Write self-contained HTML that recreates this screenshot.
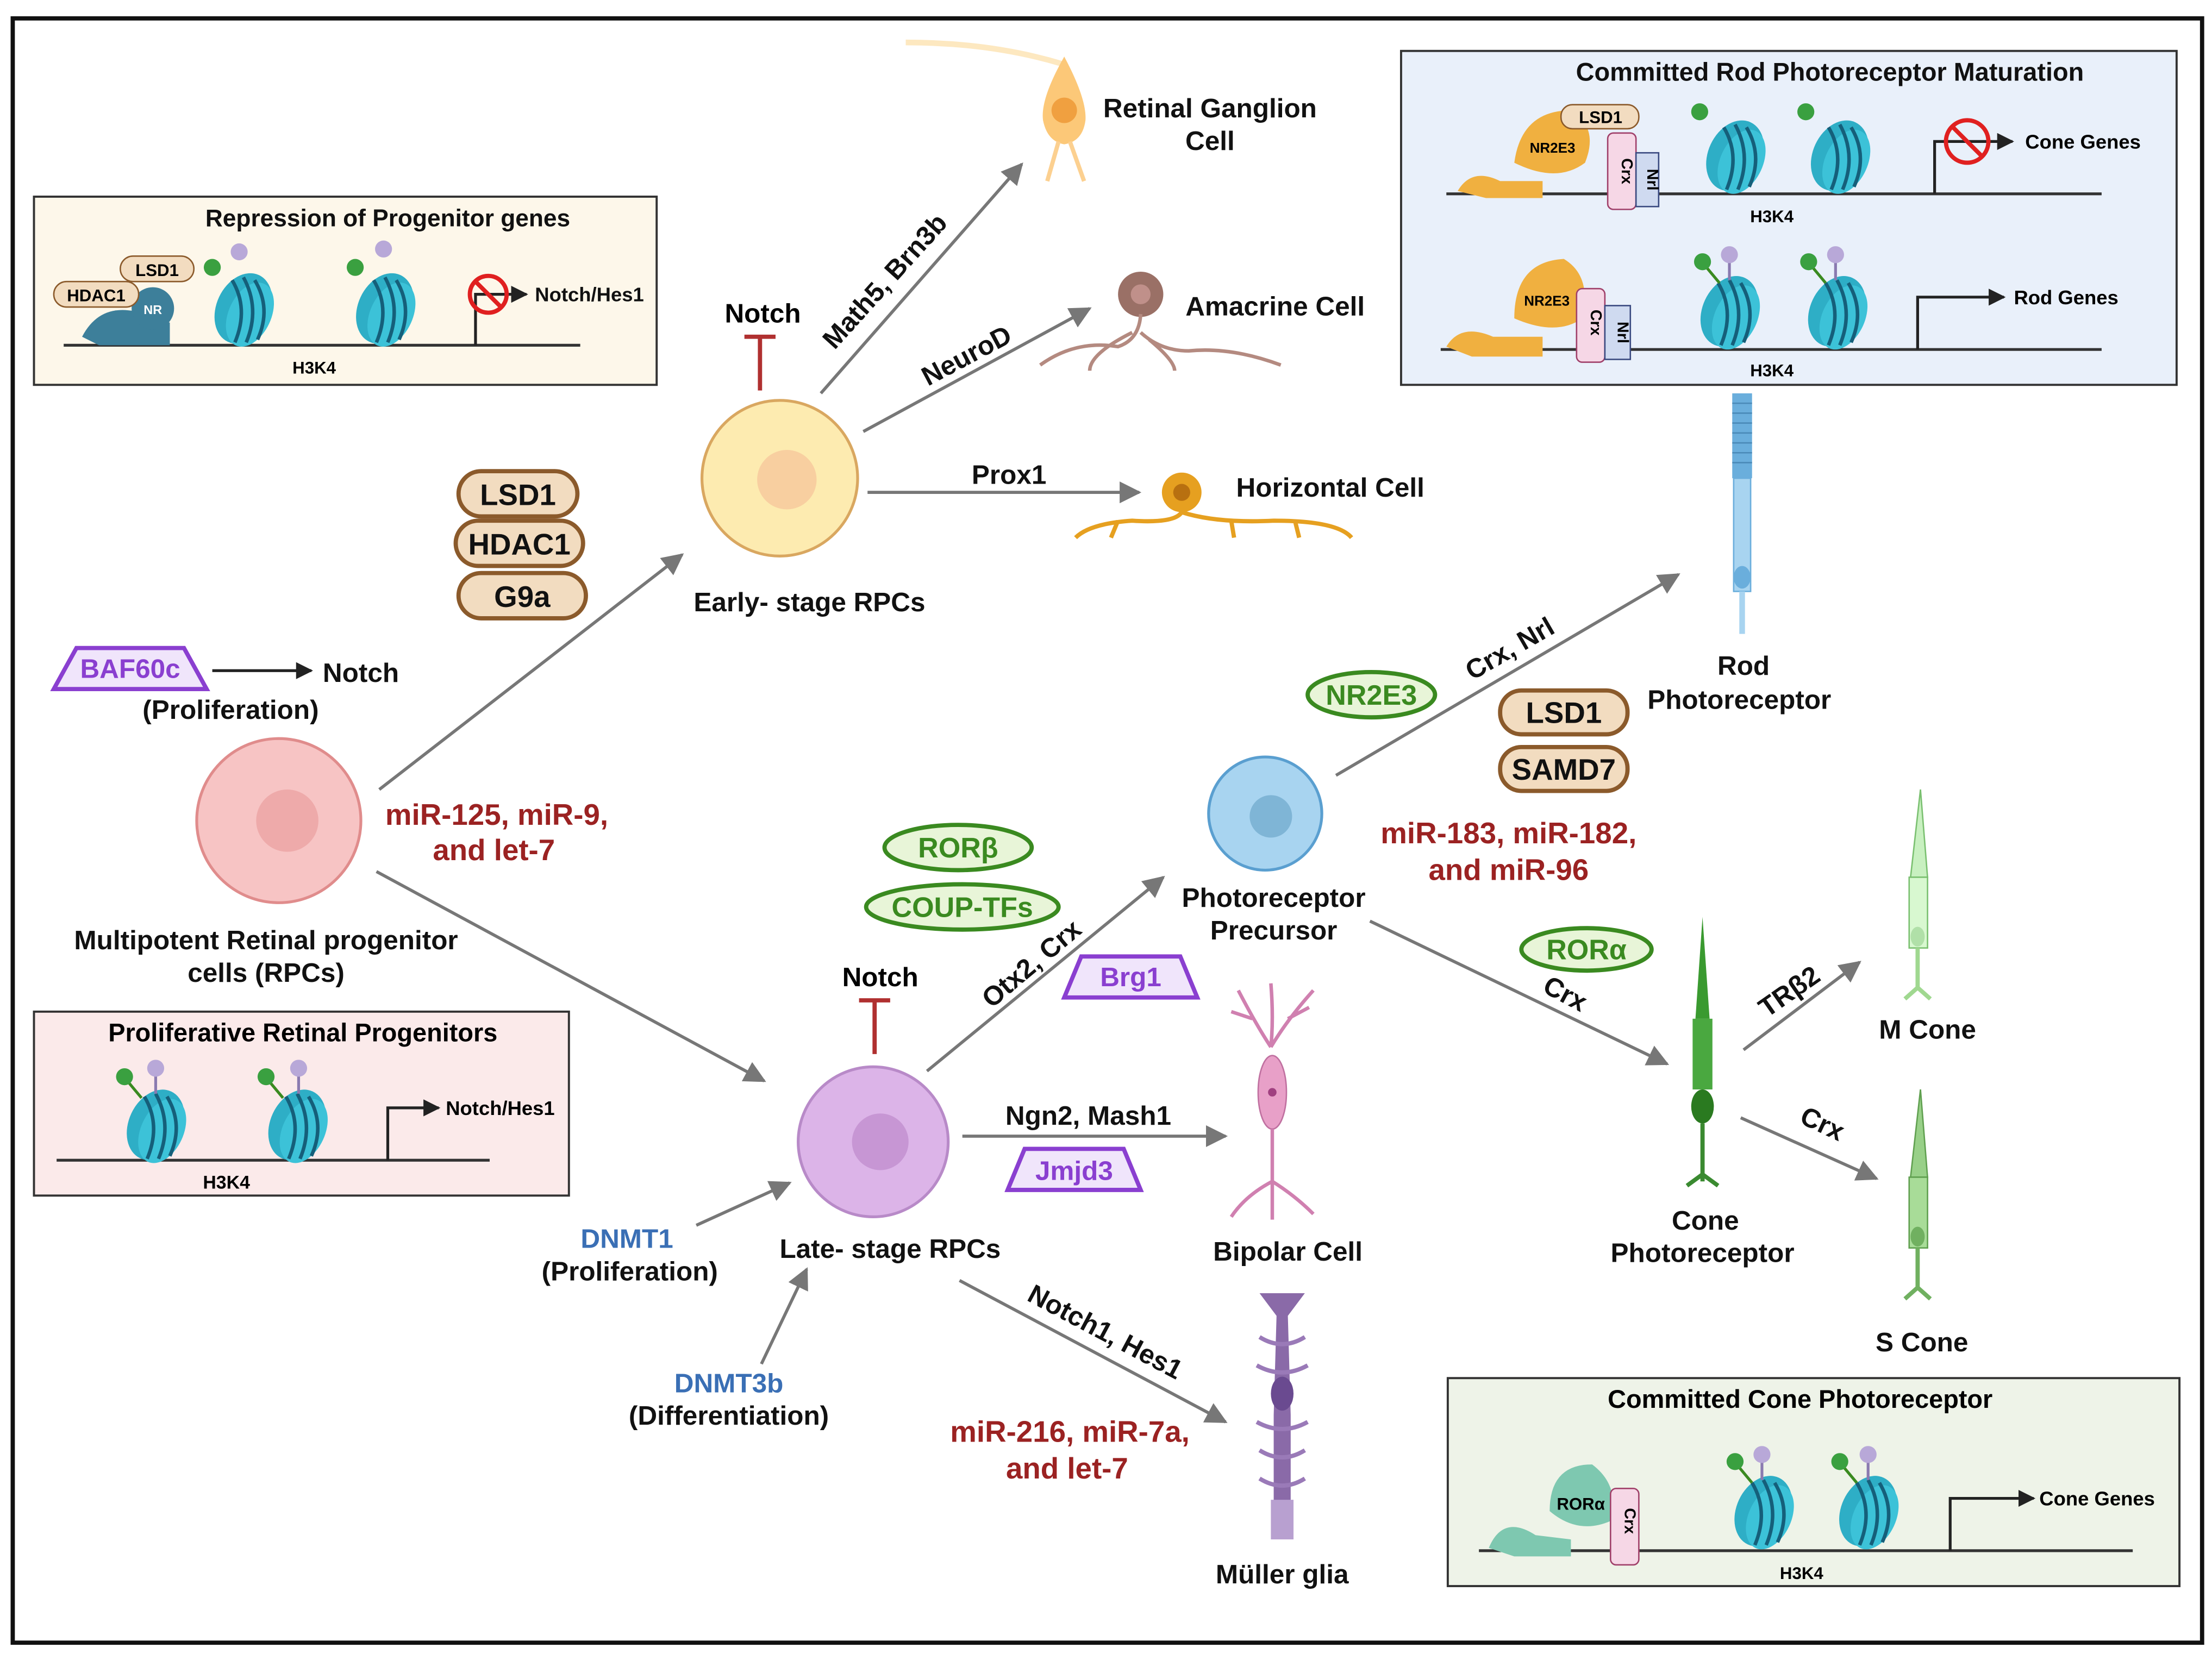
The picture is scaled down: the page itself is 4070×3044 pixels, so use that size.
<!DOCTYPE html>
<html><head><meta charset="utf-8"><style>
html,body{margin:0;padding:0;background:#fff;}
svg{display:block;}
text{font-family:"Liberation Sans",Arial,sans-serif;font-weight:bold;}
</style></head><body>
<svg width="4070" height="3044" viewBox="0 0 1563 1169" preserveAspectRatio="none" xmlns="http://www.w3.org/2000/svg">
<defs>
<marker id="ar" viewBox="0 0 10 10" refX="9" refY="5" markerWidth="7" markerHeight="7" orient="auto"><path d="M0,0L10,5L0,10z" fill="#777"/></marker>
<marker id="ak" viewBox="0 0 10 10" refX="9" refY="5" markerWidth="6" markerHeight="6" orient="auto"><path d="M0,0L10,5L0,10z" fill="#222"/></marker>
<g id="nuc">
<ellipse cx="0" cy="0" rx="19" ry="26" fill="#2eaec6" transform="rotate(25)"/>
<ellipse cx="6" cy="2" rx="15" ry="24" fill="#3cc2d8" transform="rotate(25)"/>
<path d="M-8,-20 Q4,0 -6,24 M0,-22 Q12,0 2,24 M8,-20 Q20,0 10,22" stroke="#155f7a" stroke-width="2.5" fill="none"/>
</g>
<g id="me"><line x1="0" y1="0" x2="-10" y2="-12" stroke="#3a8a20" stroke-width="2"/><circle cx="-12" cy="-15" r="6" fill="#3aa040"/></g>
<g id="ac"><line x1="0" y1="0" x2="0" y2="-14" stroke="#8a7ab0" stroke-width="2"/><circle cx="0" cy="-18" r="6" fill="#b8a8d8"/></g>
</defs>
<rect x="0" y="0" width="1563" height="1169" fill="#fff"/>
<rect x="9" y="13" width="1547" height="1148" fill="none" stroke="#111" stroke-width="3"/>

<!-- Repression box -->
<rect x="24" y="139" width="440" height="133" fill="#fdf7ea" stroke="#333" stroke-width="1.5"/>
<text x="274" y="160" font-size="17" text-anchor="middle" fill="#111">Repression of Progenitor genes</text>
<line x1="45" y1="244" x2="410" y2="244" stroke="#333" stroke-width="2"/>
<path d="M58,238 Q70,215 95,220 L120,228 L120,244 L70,244 z" fill="#3d7f9a"/>
<circle cx="108" cy="218" r="15" fill="#3d7f9a"/><text x="108" y="222" font-size="9" fill="#fff" text-anchor="middle">NR</text>
<rect x="38" y="199" width="60" height="18" rx="9" fill="#f2dcc0" stroke="#8b5a2b"/><text x="68" y="213" font-size="12" text-anchor="middle">HDAC1</text>
<rect x="85" y="181" width="52" height="18" rx="9" fill="#f2dcc0" stroke="#8b5a2b"/><text x="111" y="195" font-size="12" text-anchor="middle">LSD1</text>
<circle cx="150" cy="189" r="6" fill="#3aa040"/><circle cx="169" cy="178" r="6" fill="#b8a8d8"/>
<use href="#nuc" x="172" y="218"/><use href="#nuc" x="272" y="218"/>
<circle cx="251" cy="189" r="6" fill="#3aa040"/><circle cx="271" cy="176" r="6" fill="#b8a8d8"/>
<path d="M336,244 V208 H372" stroke="#222" stroke-width="2" fill="none" marker-end="url(#ak)"/>
<circle cx="345" cy="208" r="13" fill="none" stroke="#e02020" stroke-width="3"/><line x1="336" y1="199" x2="354" y2="217" stroke="#e02020" stroke-width="3"/>
<text x="378" y="213" font-size="14" fill="#111">Notch/Hes1</text>
<text x="222" y="264" font-size="12" text-anchor="middle">H3K4</text>

<!-- Committed Rod box -->
<rect x="990" y="36" width="548" height="236" fill="#e9f0fa" stroke="#333" stroke-width="1.5"/>
<text x="1293" y="57" font-size="18" text-anchor="middle" fill="#111">Committed Rod Photoreceptor Maturation</text>
<line x1="1022" y1="137" x2="1485" y2="137" stroke="#333" stroke-width="2"/>
<path d="M1030,135 Q1040,118 1060,128 L1090,128 L1090,140 L1050,140 z" fill="#f0b040"/>
<path d="M1070,115 Q1075,78 1110,78 Q1130,90 1120,115 Q1100,130 1070,115z" fill="#f0b040"/>
<text x="1097" y="108" font-size="10" text-anchor="middle">NR2E3</text>
<rect x="1103" y="74" width="55" height="17" rx="8" fill="#f2dcc0" stroke="#8b5a2b"/><text x="1131" y="87" font-size="12" text-anchor="middle">LSD1</text>
<rect x="1136" y="94" width="20" height="54" rx="4" fill="#f6d7e6" stroke="#a0406a"/><text x="1146" y="121" font-size="11" text-anchor="middle" transform="rotate(90 1146 121)">Crx</text>
<rect x="1156" y="108" width="16" height="38" fill="#cfdaf0" stroke="#3a4a80"/><text x="1164" y="127" font-size="11" text-anchor="middle" transform="rotate(90 1164 127)">Nrl</text>
<use href="#nuc" x="1226" y="110"/><use href="#nuc" x="1300" y="110"/>
<circle cx="1201" cy="79" r="6" fill="#3aa040"/><circle cx="1276" cy="79" r="6" fill="#3aa040"/>
<path d="M1367,137 V100 H1422" stroke="#222" stroke-width="2" fill="none" marker-end="url(#ak)"/>
<circle cx="1390" cy="100" r="15" fill="none" stroke="#e02020" stroke-width="3"/><line x1="1380" y1="90" x2="1400" y2="110" stroke="#e02020" stroke-width="3"/>
<text x="1431" y="105" font-size="14">Cone Genes</text>
<text x="1252" y="157" font-size="12" text-anchor="middle">H3K4</text>
<line x1="1018" y1="247" x2="1485" y2="247" stroke="#333" stroke-width="2"/>
<path d="M1022,245 Q1032,228 1055,238 L1090,238 L1090,252 L1040,252 z" fill="#f0b040"/>
<path d="M1070,225 Q1070,185 1105,183 Q1125,195 1118,225 Q1100,238 1070,225z" fill="#f0b040"/>
<text x="1093" y="216" font-size="10" text-anchor="middle">NR2E3</text>
<rect x="1114" y="204" width="20" height="52" rx="4" fill="#f6d7e6" stroke="#a0406a"/><text x="1124" y="228" font-size="11" text-anchor="middle" transform="rotate(90 1124 228)">Crx</text>
<rect x="1134" y="216" width="18" height="38" fill="#cfdaf0" stroke="#3a4a80"/><text x="1143" y="235" font-size="11" text-anchor="middle" transform="rotate(90 1143 235)">Nrl</text>
<use href="#nuc" x="1222" y="220"/><use href="#nuc" x="1298" y="220"/>
<use href="#me" x="1215" y="200"/><use href="#ac" x="1222" y="198"/><use href="#me" x="1290" y="200"/><use href="#ac" x="1297" y="198"/>
<path d="M1355,247 V210 H1416" stroke="#222" stroke-width="2" fill="none" marker-end="url(#ak)"/>
<text x="1423" y="215" font-size="14">Rod Genes</text>
<text x="1252" y="266" font-size="12" text-anchor="middle">H3K4</text>

<!-- Proliferative box -->
<rect x="24" y="715" width="378" height="130" fill="#fbeaea" stroke="#333" stroke-width="1.5"/>
<text x="214" y="736" font-size="18" text-anchor="middle">Proliferative Retinal Progenitors</text>
<line x1="40" y1="820" x2="346" y2="820" stroke="#333" stroke-width="2"/>
<use href="#nuc" x="110" y="795"/><use href="#nuc" x="210" y="795"/>
<use href="#me" x="100" y="776"/><use href="#ac" x="110" y="773"/><use href="#me" x="200" y="776"/><use href="#ac" x="211" y="773"/>
<path d="M274,820 V783 H310" stroke="#222" stroke-width="2" fill="none" marker-end="url(#ak)"/>
<text x="315" y="788" font-size="14">Notch/Hes1</text>
<text x="160" y="840" font-size="13" text-anchor="middle">H3K4</text>

<!-- Committed Cone box -->
<rect x="1023" y="974" width="517" height="147" fill="#eef3e8" stroke="#333" stroke-width="1.5"/>
<text x="1272" y="995" font-size="18" text-anchor="middle">Committed Cone Photoreceptor</text>
<line x1="1045" y1="1096" x2="1507" y2="1096" stroke="#333" stroke-width="2"/>
<path d="M1052,1094 Q1062,1070 1085,1085 L1110,1088 L1110,1100 L1070,1100 z" fill="#7ec8b0"/>
<path d="M1095,1068 Q1095,1035 1125,1035 Q1145,1050 1138,1075 Q1115,1085 1095,1068z" fill="#7ec8b0"/>
<text x="1117" y="1067" font-size="12" text-anchor="middle">RORα</text>
<rect x="1138" y="1052" width="20" height="54" rx="4" fill="#f6d7e6" stroke="#a0406a"/><text x="1148" y="1075" font-size="11" text-anchor="middle" transform="rotate(90 1148 1075)">Crx</text>
<use href="#nuc" x="1246" y="1068"/><use href="#nuc" x="1320" y="1068"/>
<use href="#me" x="1238" y="1048"/><use href="#ac" x="1245" y="1046"/><use href="#me" x="1312" y="1048"/><use href="#ac" x="1320" y="1046"/>
<path d="M1378,1096 V1059 H1437" stroke="#222" stroke-width="2" fill="none" marker-end="url(#ak)"/>
<text x="1441" y="1064" font-size="14">Cone Genes</text>
<text x="1273" y="1116" font-size="12" text-anchor="middle">H3K4</text>

<!-- Arrows -->
<g stroke="#777" stroke-width="2.2" fill="none" marker-end="url(#ar)">
<line x1="268" y1="558" x2="482" y2="392"/>
<line x1="266" y1="616" x2="540" y2="764"/>
<line x1="580" y1="278" x2="722" y2="116"/>
<line x1="610" y1="305" x2="770" y2="218"/>
<line x1="613" y1="348" x2="805" y2="348"/>
<line x1="655" y1="757" x2="822" y2="620"/>
<line x1="680" y1="803" x2="866" y2="803"/>
<line x1="678" y1="905" x2="866" y2="1005"/>
<line x1="492" y1="866" x2="558" y2="836"/>
<line x1="538" y1="964" x2="570" y2="897"/>
<line x1="944" y1="548" x2="1186" y2="406"/>
<line x1="968" y1="651" x2="1178" y2="752"/>
<line x1="1232" y1="742" x2="1314" y2="680"/>
<line x1="1230" y1="790" x2="1326" y2="833"/>
</g>
<line x1="150" y1="474" x2="220" y2="474" stroke="#222" stroke-width="2" marker-end="url(#ak)"/>

<!-- Notch T bars -->
<g stroke="#b03030" stroke-width="3"><line x1="537" y1="276" x2="537" y2="238"/><line x1="526" y1="238" x2="548" y2="238"/>
<line x1="618" y1="745" x2="618" y2="707"/><line x1="607" y1="707" x2="629" y2="707"/></g>
<text x="539" y="228" font-size="19" text-anchor="middle">Notch</text>
<text x="622" y="697" font-size="19" text-anchor="middle">Notch</text>

<!-- Cells -->
<circle cx="197" cy="580" r="58" fill="#f7c4c4" stroke="#e08c8c" stroke-width="2"/><circle cx="203" cy="580" r="22" fill="#eeaaaa"/>
<circle cx="551" cy="338" r="55" fill="#fdebb0" stroke="#d9a760" stroke-width="2"/><circle cx="556" cy="339" r="21" fill="#f8cfa0"/>
<circle cx="617" cy="807" r="53" fill="#dcb4e8" stroke="#b88ac8" stroke-width="2"/><circle cx="622" cy="807" r="20" fill="#c796d4"/>
<circle cx="894" cy="575" r="40" fill="#a8d4f0" stroke="#5a9fd0" stroke-width="2"/><circle cx="898" cy="577" r="15" fill="#7fb5d6"/>

<!-- Ganglion -->
<path d="M640,30 Q700,30 750,45" stroke="#fde8c0" stroke-width="4" fill="none"/>
<path d="M752,40 Q735,70 737,85 Q740,100 752,102 Q765,100 767,85 Q768,70 752,40z" fill="#fcc878"/>
<circle cx="752" cy="78" r="9" fill="#f0a040"/>
<path d="M748,100 L740,128 M756,100 L766,128" stroke="#fcd090" stroke-width="3"/>
<!-- Amacrine -->
<circle cx="806" cy="208" r="16" fill="#9a7066"/><circle cx="806" cy="208" r="7" fill="#c0908a"/>
<path d="M806,222 Q805,240 790,245 Q760,240 735,258 M800,235 Q770,250 770,262 M806,235 Q820,248 840,248 Q870,245 905,258 M812,240 Q830,255 830,262" stroke="#b48a80" stroke-width="2.5" fill="none"/>
<!-- Horizontal -->
<circle cx="835" cy="348" r="14" fill="#e6a020"/><circle cx="835" cy="348" r="6" fill="#b87010"/>
<path d="M835,362 Q830,370 800,368 Q770,370 760,380 M835,362 Q860,370 900,368 Q945,368 955,380 M790,368 L785,380 M870,368 L872,380 M915,368 L918,380" stroke="#e6a020" stroke-width="3" fill="none"/>
<!-- Bipolar -->
<path d="M898,740 Q888,725 875,700 M898,740 Q900,720 898,695 M898,740 Q910,720 928,700 M885,720 L870,715 M910,720 L925,712" stroke="#d080b0" stroke-width="2.5" fill="none"/>
<ellipse cx="899" cy="772" rx="10" ry="26" fill="#e8a0c8" stroke="#c070a0"/><circle cx="899" cy="772" r="3" fill="#a04080"/>
<path d="M899,798 L899,835 M899,835 Q880,845 870,860 M899,835 Q915,845 928,858 M899,835 L899,862" stroke="#d080b0" stroke-width="2.5" fill="none"/>
<!-- Muller -->
<path d="M890,914 L922,914 L910,930 L912,1000 L912,1080 L900,1080 L900,1000 L902,930 z" fill="#8a6aa8"/>
<ellipse cx="906" cy="985" rx="8" ry="12" fill="#6a4a90"/>
<path d="M890,945 Q906,955 922,945 M888,965 Q906,975 924,965 M888,1005 Q906,1015 924,1005 M890,1025 Q906,1035 922,1025 M890,1045 Q906,1055 922,1045" stroke="#9a7ab8" stroke-width="3" fill="none"/>
<rect x="898" y="1060" width="16" height="28" fill="#b8a0d0"/>
<!-- Rod -->
<rect x="1224" y="278" width="14" height="60" fill="#6aaedc"/>
<path d="M1224,285 H1238 M1224,292 H1238 M1224,299 H1238 M1224,306 H1238 M1224,313 H1238 M1224,320 H1238 M1224,327 H1238" stroke="#4a8ab8"/>
<rect x="1225" y="338" width="12" height="80" fill="#a8d4f0" stroke="#6aaedc"/>
<ellipse cx="1231" cy="408" rx="6" ry="8" fill="#6aaedc"/>
<line x1="1231" y1="418" x2="1231" y2="448" stroke="#a8d4f0" stroke-width="4"/>
<!-- Cone -->
<path d="M1198,720 L1203,648 L1208,720z" fill="#3a9a30"/>
<rect x="1196" y="720" width="14" height="50" fill="#4aa840"/>
<ellipse cx="1203" cy="782" rx="8" ry="12" fill="#2a7a20"/>
<path d="M1203,794 V835 M1192,838 L1203,830 L1214,838" stroke="#3a8a30" stroke-width="3" fill="none"/>
<!-- M cone -->
<path d="M1350,620 L1357,558 L1362,620z" fill="#c8f0c0" stroke="#7ac070"/>
<rect x="1349" y="620" width="13" height="50" fill="#d8f8d0" stroke="#7ac070"/>
<ellipse cx="1355" cy="662" rx="5" ry="7" fill="#b0e0a8"/>
<path d="M1355,670 V700 M1346,706 L1355,698 L1364,706" stroke="#a0d890" stroke-width="3" fill="none"/>
<!-- S cone -->
<path d="M1350,832 L1357,770 L1362,832z" fill="#98d088" stroke="#60a050"/>
<rect x="1349" y="832" width="13" height="50" fill="#a8dc98" stroke="#60a050"/>
<ellipse cx="1355" cy="874" rx="5" ry="7" fill="#70b060"/>
<path d="M1355,882 V912 M1346,918 L1355,910 L1364,918" stroke="#70b060" stroke-width="3" fill="none"/>

<!-- Pills -->
<g fill="#f2dcc0" stroke="#8b5a2b" stroke-width="3">
<rect x="324" y="333" width="84" height="32" rx="16"/>
<rect x="322" y="368" width="90" height="32" rx="16"/>
<rect x="324" y="405" width="90" height="32" rx="16"/>
<rect x="1060" y="488" width="90" height="31" rx="15"/>
<rect x="1060" y="528" width="90" height="31" rx="15"/>
</g>
<g font-size="21" text-anchor="middle" fill="#111">
<text x="366" y="357">LSD1</text><text x="367" y="392">HDAC1</text><text x="369" y="429">G9a</text>
<text x="1105" y="511">LSD1</text><text x="1105" y="551">SAMD7</text>
</g>
<!-- Green ellipses -->
<g fill="#e8f5d8" stroke="#3a8a20" stroke-width="3">
<ellipse cx="677" cy="599" rx="52" ry="16"/><ellipse cx="680" cy="641" rx="68" ry="16"/>
<ellipse cx="969" cy="491" rx="45" ry="16"/><ellipse cx="1121" cy="671" rx="46" ry="15"/>
</g>
<g font-size="20" text-anchor="middle" fill="#3a8a20">
<text x="677" y="606">RORβ</text><text x="680" y="648">COUP-TFs</text><text x="969" y="498">NR2E3</text><text x="1121" y="678">RORα</text>
</g>
<!-- Purple trapezoids -->
<g fill="#f0e5fb" stroke="#8a3fd0" stroke-width="3">
<path d="M38,487 L54,458 L130,458 L146,487z"/>
<path d="M712,841 L724,812 L794,812 L806,841z"/>
<path d="M752,705 L764,676 L834,676 L846,705z"/>
</g>
<g font-size="19" text-anchor="middle" fill="#8a3fd0">
<text x="92" y="479">BAF60c</text><text x="759" y="834">Jmjd3</text><text x="799" y="697">Brg1</text>
</g>

<!-- Text labels -->
<g font-size="19" fill="#111" text-anchor="middle">
<text x="255" y="482">Notch</text>
<text x="163" y="508">(Proliferation)</text>
<text x="188" y="671">Multipotent Retinal progenitor</text>
<text x="188" y="694">cells (RPCs)</text>
<text x="572" y="432">Early- stage RPCs</text>
<text x="629" y="889">Late- stage RPCs</text>
<text x="445" y="905">(Proliferation)</text>
<text x="515" y="1007">(Differentiation)</text>
<text x="855" y="83">Retinal Ganglion</text>
<text x="855" y="106">Cell</text>
<text x="901" y="223">Amacrine Cell</text>
<text x="940" y="351">Horizontal Cell</text>
<text x="713" y="342">Prox1</text>
<text x="769" y="795">Ngn2, Mash1</text>
<text x="900" y="641">Photoreceptor</text>
<text x="900" y="664">Precursor</text>
<text x="910" y="891">Bipolar Cell</text>
<text x="906" y="1119">Müller glia</text>
<text x="1232" y="477">Rod</text>
<text x="1229" y="501">Photoreceptor</text>
<text x="1205" y="869">Cone</text>
<text x="1203" y="892">Photoreceptor</text>
<text x="1362" y="734">M Cone</text>
<text x="1358" y="955">S Cone</text>
<text x="630" y="203" transform="rotate(-48 630 203)">Math5, Brn3b</text>
<text x="686" y="257" transform="rotate(-28 686 257)">NeuroD</text>
<text x="733" y="686" transform="rotate(-40 733 686)">Otx2, Crx</text>
<text x="778" y="947" transform="rotate(28 778 947)">Notch1, Hes1</text>
<text x="1070" y="464" transform="rotate(-30 1070 464)">Crx, Nrl</text>
<text x="1103" y="708" transform="rotate(28 1103 708)">Crx</text>
<text x="1268" y="706" transform="rotate(-35 1268 706)">TRβ2</text>
<text x="1285" y="800" transform="rotate(25 1285 800)">Crx</text>
</g>
<g font-size="21" fill="#9b2222" text-anchor="middle">
<text x="351" y="583">miR-125, miR-9,</text><text x="349" y="608">and let-7</text>
<text x="1066" y="596">miR-183, miR-182,</text><text x="1066" y="622">and miR-96</text>
<text x="756" y="1019">miR-216, miR-7a,</text><text x="754" y="1045">and let-7</text>
</g>
<g font-size="19" fill="#3a6fb5" text-anchor="middle">
<text x="443" y="882">DNMT1</text><text x="515" y="984">DNMT3b</text>
</g>
</svg>
</body></html>
